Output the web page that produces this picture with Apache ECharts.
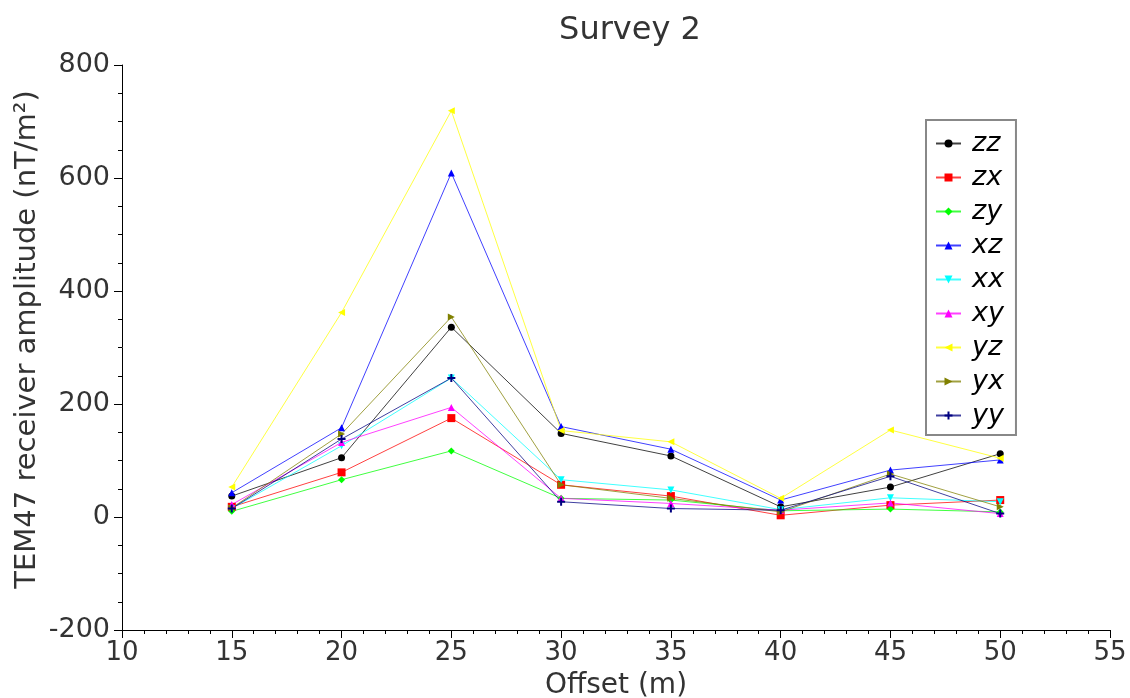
<!DOCTYPE html>
<html>
<head>
<meta charset="utf-8">
<script src="https://cdn.jsdelivr.net/npm/echarts@6/dist/echarts.min.js"></script>
<style>
  html, body { margin: 0; padding: 0; background: #fff; }
  #chart { width: 1130px; height: 698px; }
</style>
</head>
<body>
<div id="chart"></div>
<script>
// offsets (m)
const offsets = [15, 20, 25, 30, 35, 40, 45, 50]

// receiver amplitude per component (nT/m^2)
const zz = [37, 105, 336, 148, 108, 18, 53, 112]
const zx = [18, 79, 175, 57, 37, 3, 21, 30]
const zy = [10, 66, 117, 33, 30, 11, 14, 9]
const xz = [43, 158, 609, 160, 120, 30, 83, 101]
const xx = [15, 126, 246, 66, 48, 13, 34, 27]
const xy = [22, 132, 194, 33, 24, 12, 25, 6]
const yz = [53, 362, 719, 153, 133, 33, 154, 104]
const yx = [16, 147, 354, 57, 33, 9, 76, 18]
const yy = [15, 138, 246, 27, 15, 12, 72, 6]

const font = 'DejaVu Sans'
const textColor = '#333'
const plus = 'path://M3,0H5V3H8V5H5V8H3V5H0V3H3Z'

function initSeries(name, values, color, symbol, rotate, size) {
  return {
    name,
    type: 'line',
    data: offsets.map((x, i) => [x, values[i]]),
    symbol,
    symbolSize: size || 7,
    symbolRotate: rotate || 0,
    showSymbol: true,
    itemStyle: { color },
    lineStyle: { color, width: 1, opacity: 0.75 },
    emphasis: { disabled: true },
    animation: false
  }
}

const series = [
  initSeries('zz', zz, '#000000', 'circle', 0, 7),
  initSeries('zx', zx, '#ff0000', 'rect', 0, 8),
  initSeries('zy', zy, '#00ff00', 'diamond', 0, 7),
  initSeries('xz', xz, '#0000ff', 'triangle', 0, 7),
  initSeries('xx', xx, '#00ffff', 'triangle', 180, 7),
  initSeries('xy', xy, '#ff00ff', 'triangle', 0, 7),
  initSeries('yz', yz, '#ffff00', 'triangle', 90, 7),
  initSeries('yx', yx, '#808000', 'triangle', -90, 7),
  initSeries('yy', yy, '#000080', plus, 0, 8)
]

const chart = echarts.init(document.getElementById('chart'))
chart.setOption({
  animation: false,
  textStyle: { fontFamily: font, color: textColor },
  title: {
    text: 'Survey 2',
    left: 625,
    top: 10,
    textAlign: 'center',
    textStyle: { fontFamily: font, fontSize: 32, fontWeight: 'normal', color: textColor }
  },
  grid: { left: 122, right: 20, top: 65, bottom: 68, containLabel: false, outerBoundsMode: 'none' },
  legend: {
    orient: 'vertical',
    left: 926,
    top: 120,
    width: 91,
    padding: [10, 12, 6, 9],
    itemWidth: 25,
    itemHeight: 10,
    itemGap: 7,
    borderColor: '#888',
    borderWidth: 2,
    backgroundColor: '#fff',
    textStyle: {
      fontFamily: font,
      fontStyle: 'italic',
      fontSize: 27,
      lineHeight: 24,
      color: '#000',
      padding: [0, 0, 0, 6]
    },
    data: series.map(s => s.name)
  },
  xAxis: {
    type: 'value',
    min: 10,
    max: 55,
    interval: 5,
    name: 'Offset (m)',
    nameLocation: 'middle',
    nameGap: 42,
    nameMoveOverlap: false,
    nameTextStyle: { fontFamily: font, fontSize: 28, color: textColor },
    axisLine: { show: true, onZero: false, lineStyle: { color: '#000', width: 1 } },
    axisTick: { show: true, length: 8, lineStyle: { color: '#000' } },
    minorTick: { show: true, splitNumber: 5, length: 4, lineStyle: { color: '#000' } },
    splitLine: { show: false },
    axisLabel: { fontFamily: font, fontSize: 26, color: textColor, margin: 10 }
  },
  yAxis: {
    type: 'value',
    min: -200,
    max: 800,
    interval: 200,
    name: 'TEM47 receiver amplitude (nT/m²)',
    nameLocation: 'middle',
    nameGap: 80,
    nameMoveOverlap: false,
    nameTextStyle: { fontFamily: font, fontSize: 29, color: textColor, padding: [0, 0, 0, 16] },
    axisLine: { show: true, lineStyle: { color: '#000', width: 1 } },
    axisTick: { show: true, length: 8, lineStyle: { color: '#000' } },
    minorTick: { show: true, splitNumber: 4, length: 4, lineStyle: { color: '#000' } },
    splitLine: { show: false },
    axisLabel: { fontFamily: font, fontSize: 27, color: textColor, margin: 12 }
  },
  series
})
</script>
</body>
</html>
